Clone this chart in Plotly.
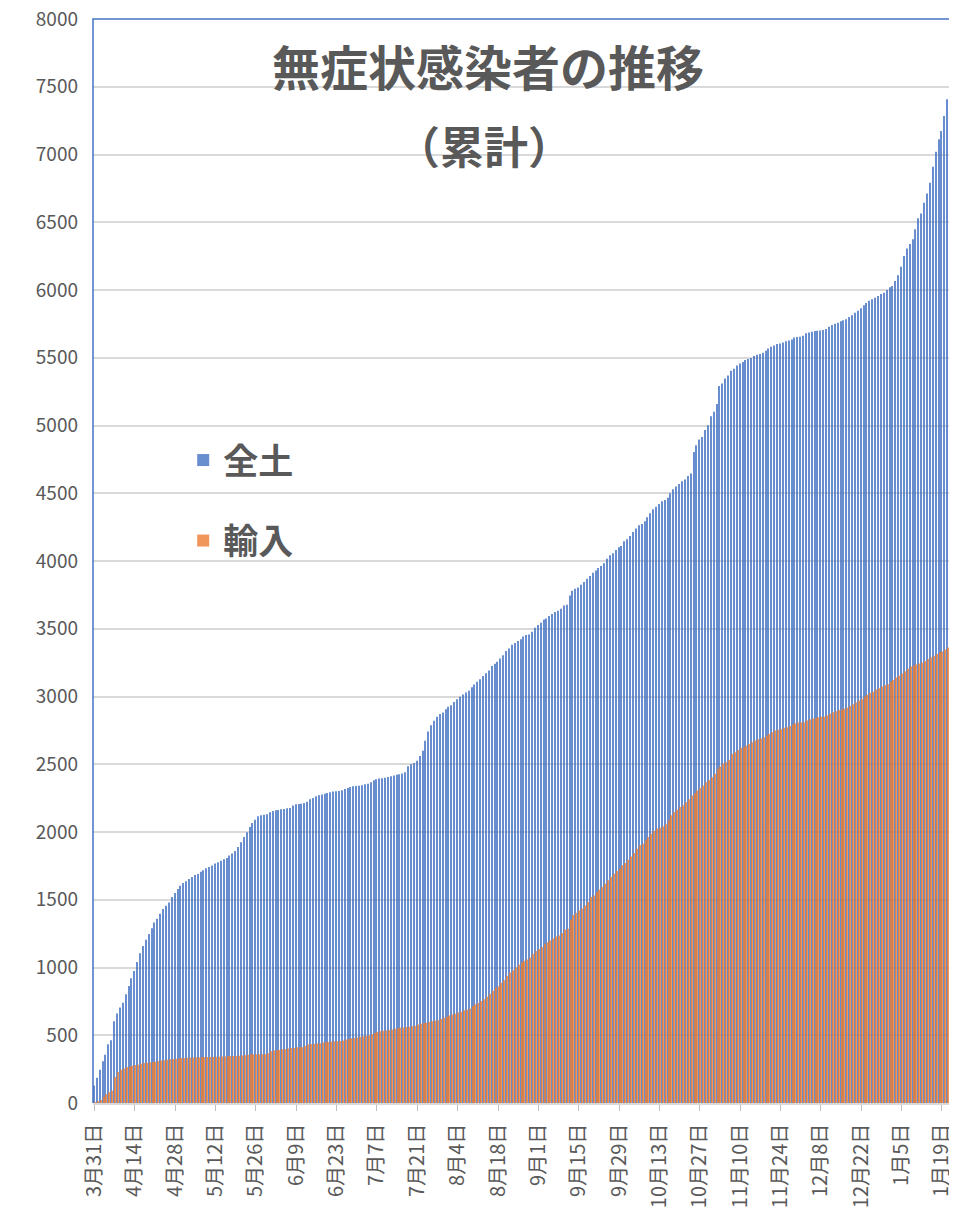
import datetime as dt
import plotly.graph_objects as go

# ---- data ----
start_date = dt.date(2020, 3, 31)

zendo = [  # 全土 cumulative
    129, 186, 245, 309, 356, 433, 463, 603, 660, 705,
    739, 803, 863, 920, 974, 1041, 1105, 1159, 1204, 1248,
    1290, 1332, 1359, 1396, 1431, 1456, 1480, 1520, 1549, 1579,
    1604, 1624, 1636, 1653, 1668, 1683, 1690, 1707, 1717, 1732,
    1742, 1752, 1767, 1777, 1787, 1799, 1809, 1826, 1841, 1860,
    1890, 1925, 1963, 1998, 2037, 2067, 2091, 2116, 2123, 2128,
    2131, 2145, 2155, 2160, 2163, 2167, 2170, 2175, 2178, 2195,
    2204, 2206, 2209, 2214, 2224, 2241, 2251, 2264, 2271, 2276,
    2283, 2288, 2293, 2298, 2300, 2303, 2308, 2318, 2325, 2333,
    2337, 2340, 2342, 2345, 2352, 2357, 2367, 2382, 2389, 2394,
    2397, 2400, 2405, 2412, 2417, 2422, 2426, 2431, 2441, 2486,
    2500, 2510, 2525, 2560, 2599, 2673, 2742, 2787, 2821, 2851,
    2871, 2881, 2905, 2925, 2935, 2960, 2979, 2999, 3014, 3029,
    3043, 3068, 3088, 3108, 3127, 3152, 3172, 3191, 3226, 3241,
    3256, 3280, 3305, 3335, 3354, 3382, 3394, 3409, 3423, 3443,
    3453, 3458, 3478, 3508, 3528, 3544, 3569, 3576, 3594, 3608,
    3623, 3633, 3648, 3672, 3677, 3746, 3781, 3796, 3805, 3825,
    3845, 3869, 3889, 3914, 3929, 3948, 3963, 3983, 4017, 4042,
    4057, 4081, 4101, 4111, 4145, 4160, 4185, 4214, 4239, 4264,
    4273, 4293, 4323, 4352, 4382, 4401, 4421, 4441, 4451, 4466,
    4500, 4530, 4549, 4569, 4589, 4602, 4627, 4645, 4805, 4855,
    4897, 4916, 4966, 5002, 5069, 5101, 5158, 5291, 5310, 5347,
    5369, 5404, 5419, 5443, 5458, 5468, 5483, 5490, 5498, 5512,
    5522, 5527, 5537, 5552, 5569, 5581, 5591, 5601, 5606, 5613,
    5621, 5628, 5635, 5650, 5653, 5655, 5663, 5680, 5687, 5692,
    5697, 5700, 5702, 5704, 5712, 5729, 5741, 5751, 5759, 5769,
    5776, 5785, 5801, 5814, 5833, 5846, 5865, 5888, 5904, 5920,
    5931, 5943, 5956, 5970, 5980, 6000, 6020, 6029, 6066, 6108,
    6172, 6251, 6307, 6339, 6374, 6448, 6529, 6565, 6644, 6713,
    6792, 6910, 7021, 7112, 7173, 7284, 7407, 7506,
]

yunyu = [  # 輸入 cumulative
    5, 12, 22, 47, 67, 80, 91, 191, 228, 245,
    255, 265, 270, 275, 280, 282, 290, 295, 297, 300,
    302, 305, 310, 314, 316, 319, 322, 324, 327, 329,
    332, 333, 334, 335, 336, 337, 338, 338, 339, 340,
    340, 341, 341, 342, 343, 344, 345, 346, 347, 347,
    348, 350, 352, 357, 359, 359, 359, 359, 359, 362,
    367, 382, 387, 389, 392, 397, 397, 402, 406, 406,
    411, 411, 411, 421, 431, 436, 436, 441, 441, 446,
    448, 451, 453, 456, 456, 458, 461, 468, 473, 478,
    480, 483, 488, 493, 495, 498, 507, 517, 524, 529,
    533, 535, 538, 543, 548, 551, 556, 558, 561, 563,
    566, 568, 580, 585, 590, 593, 598, 603, 607, 610,
    620, 630, 637, 645, 654, 659, 667, 674, 684, 689,
    698, 716, 728, 738, 753, 765, 785, 807, 827, 852,
    862, 886, 906, 938, 963, 980, 1000, 1020, 1037, 1049,
    1059, 1074, 1099, 1122, 1137, 1150, 1175, 1187, 1200, 1214,
    1229, 1236, 1254, 1278, 1286, 1352, 1387, 1402, 1421, 1434,
    1458, 1483, 1520, 1532, 1557, 1574, 1594, 1618, 1643, 1667,
    1692, 1712, 1729, 1754, 1771, 1796, 1820, 1845, 1877, 1902,
    1914, 1939, 1963, 1988, 2008, 2025, 2032, 2042, 2057, 2086,
    2123, 2148, 2165, 2185, 2197, 2220, 2242, 2269, 2286, 2306,
    2325, 2343, 2367, 2384, 2404, 2429, 2466, 2483, 2503, 2515,
    2532, 2576, 2589, 2606, 2621, 2626, 2638, 2650, 2663, 2675,
    2685, 2690, 2700, 2712, 2724, 2737, 2749, 2754, 2761, 2769,
    2773, 2783, 2793, 2803, 2808, 2808, 2810, 2823, 2833, 2838,
    2842, 2847, 2850, 2852, 2860, 2872, 2884, 2892, 2900, 2904,
    2910, 2917, 2930, 2942, 2955, 2971, 2981, 3000, 3013, 3026,
    3035, 3051, 3061, 3074, 3083, 3090, 3109, 3122, 3141, 3154,
    3170, 3186, 3205, 3221, 3228, 3237, 3244, 3250, 3260, 3276,
    3289, 3301, 3314, 3327, 3333, 3346, 3362, 3372,
]

tick_labels = [
    "3月31日", "4月14日", "4月28日", "5月12日", "5月26日", "6月9日",
    "6月23日", "7月7日", "7月21日", "8月4日", "8月18日", "9月1日",
    "9月15日", "9月29日", "10月13日", "10月27日", "11月10日", "11月24日",
    "12月8日", "12月22日", "1月5日", "1月19日",
]

n = min(len(zendo), len(yunyu))
dates = [start_date + dt.timedelta(days=i) for i in range(n)]
categories = [f"{d.month}月{d.day}日" for d in dates]

FONT = "Noto Sans CJK JP"
TXT = "#595959"
BLUE = "#4472C4"
ORANGE = "#ED7D31"

fig = go.Figure()
fig.add_trace(go.Bar(x=categories, y=zendo[:n], name="全土",
                     marker=dict(color=BLUE, line=dict(width=0)),
                     opacity=0.8, legendgroup="a"))
fig.add_trace(go.Bar(x=categories, y=yunyu[:n], name="輸入",
                     marker=dict(color=ORANGE, line=dict(width=0)),
                     opacity=0.8, legendgroup="b"))

# the page body adds an 8px margin, so the figure is laid out 8px smaller
fig.update_layout(
    width=949, height=1208,
    margin=dict(l=85, r=5, t=11, b=113, autoexpand=False),
    paper_bgcolor="white", plot_bgcolor="white",
    barmode="group", bargap=0.3, bargroupgap=0.0,
    font=dict(family=FONT, color=TXT, size=19),
    showlegend=True,
    legend=dict(
        x=0.105, xanchor="left", y=0.556, yanchor="middle",
        bgcolor="rgba(0,0,0,0)", borderwidth=0,
        font=dict(family=FONT, size=35, color=TXT, weight="bold"),
        traceorder="grouped", tracegroupgap=32,
    ),
    annotations=[
        dict(text="<b>無症状感染者の推移</b>", xref="paper", yref="paper",
             x=0.46, y=0.9576, xanchor="center", yanchor="middle",
             showarrow=False, font=dict(family=FONT, size=48, color=TXT)),
        dict(text="<b>（累計）</b>", xref="paper", yref="paper",
             x=0.455, y=0.8838, xanchor="center", yanchor="middle",
             showarrow=False, font=dict(family=FONT, size=44, color=TXT)),
    ],
    shapes=[
        dict(type="path", xref="paper", yref="paper",
             path="M0,0 L0,1 L1,1 L1,0",
             line=dict(color=BLUE, width=1.5)),
    ],
)

fig.update_xaxes(
    type="category", categoryorder="array", categoryarray=categories,
    tickmode="array", tickvals=tick_labels, ticktext=tick_labels,
    tickangle=-90, ticks="outside", ticklen=6, tickcolor="#BFBFBF",
    showline=True, linecolor="#D9D9D9", linewidth=1.5,
    showgrid=False, ticklabelstandoff=5, automargin=False,
    tickfont=dict(family=FONT, size=20, color=TXT),
)
fig.update_yaxes(
    range=[0, 8000], dtick=500, tick0=0,
    showgrid=True, gridcolor="#D9D9D9", gridwidth=1.5,
    zeroline=False, showline=False, ticks="",
    ticklabelstandoff=14, ticklabeloverflow="allow", automargin=False,
    tickfont=dict(family=FONT, size=19, color=TXT),
)

fig.write_html("out.html")
